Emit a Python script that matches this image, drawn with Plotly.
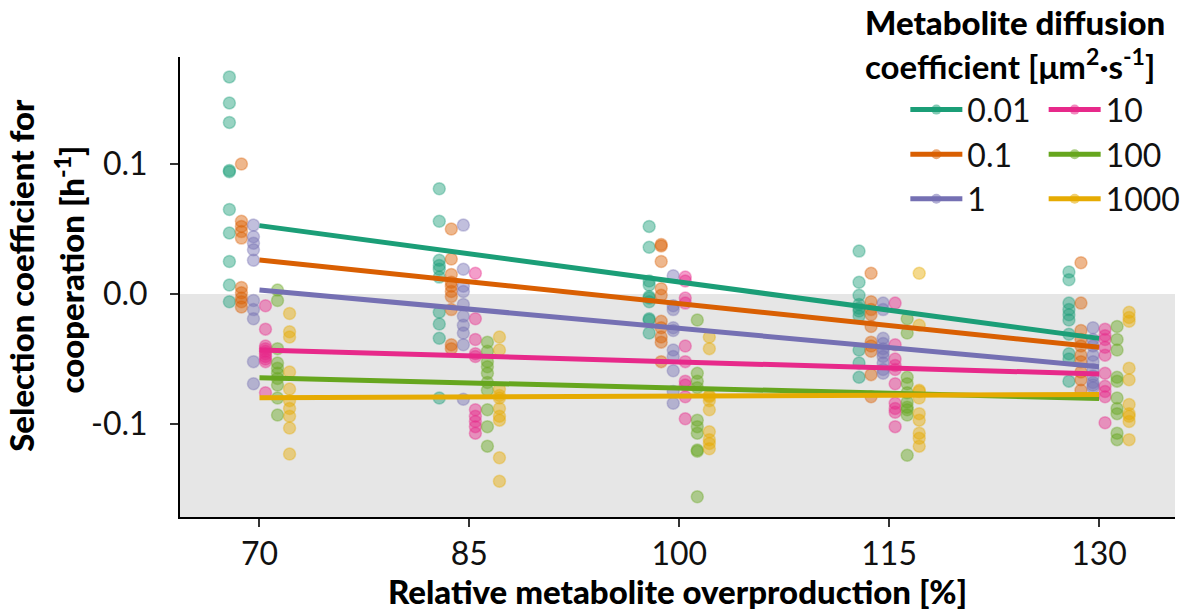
import plotly.graph_objects as go

# ---------------- data ----------------
overproduction = [70, 85, 100, 115, 130]
diffusion_labels = ["0.01", "0.1", "1", "10", "100", "1000"]
colors = ["#1B9E77", "#D95F02", "#7570B3", "#E7298A", "#66A61E", "#E6AB02"]
dodge = [-2.15, -1.29, -0.43, 0.43, 1.29, 2.15]

d001 = [
    [0.167, 0.147, 0.132, 0.095, 0.094, 0.065, 0.047, 0.025, 0.007, -0.006],
    [0.081, 0.056, 0.026, 0.022, 0.019, 0.013, -0.014, -0.023, -0.034, -0.080],
    [0.052, 0.036, 0.010, 0.007, -0.002, -0.003, -0.006, -0.019, -0.020, -0.030],
    [0.033, 0.009, -0.001, -0.008, -0.011, -0.013, -0.017, -0.043, -0.053, -0.064],
    [0.017, 0.011, -0.007, -0.012, -0.016, -0.020, -0.031, -0.046, -0.050, -0.067],
]
d01 = [
    [0.100, 0.056, 0.052, 0.048, 0.043, 0.005, 0.001, -0.003, -0.006, -0.010],
    [0.050, 0.027, 0.015, 0.009, 0.006, 0.002, -0.002, -0.012, -0.039, -0.042],
    [0.038, 0.037, 0.025, 0.004, -0.001, -0.021, -0.026, -0.033, -0.037, -0.052],
    [0.016, -0.006, -0.012, -0.016, -0.025, -0.037, -0.040, -0.044, -0.062, -0.079],
    [0.024, -0.007, -0.028, -0.035, -0.040, -0.047, -0.052, -0.060, -0.066, -0.074],
]
d1 = [
    [0.053, 0.044, 0.039, 0.034, 0.026, -0.005, -0.012, -0.019, -0.052, -0.069],
    [0.053, 0.019, 0.006, 0.002, -0.008, -0.017, -0.024, -0.030, -0.039, -0.081],
    [0.014, -0.009, -0.012, -0.026, -0.028, -0.043, -0.048, -0.059, -0.075, -0.084],
    [-0.007, -0.012, -0.034, -0.038, -0.042, -0.045, -0.048, -0.053, -0.058, -0.061],
    [-0.026, -0.035, -0.040, -0.047, -0.052, -0.058, -0.063, -0.068, -0.070, -0.072],
]
d10 = [
    [-0.009, -0.027, -0.040, -0.042, -0.044, -0.046, -0.048, -0.050, -0.052, -0.076],
    [0.016, -0.019, -0.035, -0.046, -0.048, -0.089, -0.094, -0.098, -0.102, -0.107],
    [0.013, 0.010, -0.003, -0.007, -0.040, -0.052, -0.067, -0.070, -0.079, -0.096],
    [-0.007, -0.039, -0.050, -0.055, -0.058, -0.069, -0.084, -0.088, -0.091, -0.102],
    [-0.027, -0.032, -0.035, -0.041, -0.047, -0.061, -0.071, -0.075, -0.079, -0.099],
]
d100 = [
    [0.003, -0.005, -0.042, -0.053, -0.057, -0.061, -0.065, -0.070, -0.080, -0.093],
    [-0.037, -0.044, -0.052, -0.056, -0.061, -0.068, -0.074, -0.089, -0.102, -0.117],
    [-0.020, -0.061, -0.067, -0.072, -0.097, -0.102, -0.107, -0.120, -0.121, -0.156],
    [-0.019, -0.030, -0.064, -0.069, -0.076, -0.083, -0.087, -0.089, -0.093, -0.124],
    [-0.025, -0.035, -0.043, -0.064, -0.067, -0.080, -0.088, -0.092, -0.107, -0.112],
]
d1000 = [
    [-0.015, -0.029, -0.033, -0.060, -0.073, -0.082, -0.088, -0.094, -0.103, -0.123],
    [-0.033, -0.043, -0.073, -0.078, -0.080, -0.088, -0.094, -0.097, -0.126, -0.144],
    [-0.033, -0.042, -0.078, -0.079, -0.082, -0.089, -0.106, -0.112, -0.115, -0.119],
    [0.016, -0.024, -0.074, -0.075, -0.080, -0.092, -0.097, -0.107, -0.111, -0.117],
    [-0.014, -0.018, -0.021, -0.057, -0.066, -0.085, -0.092, -0.094, -0.098, -0.112],
]
series_values = [d001, d01, d1, d10, d100, d1000]

# fitted line values at 70 % and 130 %
fit_start = [0.0526, 0.0262, 0.0031, -0.0430, -0.0644, -0.0797]
fit_end = [-0.0341, -0.0410, -0.0559, -0.0615, -0.0803, -0.0772]

y_ticks = [-0.1, 0.0, 0.1]
y_ticktext = ["-0.1", "0.0", "0.1"]
x_range = [64.32, 135.43]
y_range = [-0.1715, 0.1823]

FONT = "Lato"

def rgba(hexc, a):
    h = hexc.lstrip("#")
    r, g, b = int(h[0:2], 16), int(h[2:4], 16), int(h[4:6], 16)
    return f"rgba({r},{g},{b},{a})"

fig = go.Figure()

# background shading below zero
fig.add_shape(type="rect", xref="paper", x0=0, x1=1, yref="y",
              y0=y_range[0], y1=0, fillcolor="#e6e6e6", line_width=0, layer="below")

# points
for i, vals in enumerate(series_values):
    xs, ys = [], []
    for g, xv in enumerate(overproduction):
        for v in vals[g]:
            xs.append(xv + dodge[i])
            ys.append(v)
    fig.add_trace(go.Scatter(
        x=xs, y=ys, mode="markers", showlegend=False, hoverinfo="skip",
        marker=dict(size=12, color=rgba(colors[i], 0.45),
                    line=dict(color=rgba(colors[i], 0.35), width=1.5)),
    ))

# fitted lines
for i in range(6):
    fig.add_trace(go.Scatter(
        x=[overproduction[0], overproduction[-1]], y=[fit_start[i], fit_end[i]],
        mode="lines", showlegend=False, line=dict(color=colors[i], width=5),
    ))

# legend entries
for i, lab in enumerate(diffusion_labels):
    fig.add_trace(go.Scatter(
        x=[None], y=[None], mode="lines+markers", name=lab,
        legend="legend" if i < 3 else "legend2",
        line=dict(color=colors[i], width=5),
        marker=dict(size=10, color=rgba(colors[i], 0.55)),
    ))

legend_common = dict(
    bgcolor="rgba(0,0,0,0)", font=dict(family=FONT, size=32, color="#111"),
    xanchor="left", yanchor="top", itemwidth=52, tracegroupgap=0,
)
TITLE_FONT = dict(family=FONT, size=33, color="black", weight=900)

fig.update_layout(
    width=1188, height=611,
    margin=dict(l=180, r=13, t=57, b=94, autoexpand=False),
    paper_bgcolor="white", plot_bgcolor="white",
    font=dict(family=FONT, color="#111"),
    legend=dict(x=0.729, y=0.945, **legend_common),
    legend2=dict(x=0.868, y=0.945, **legend_common),
    xaxis=dict(range=x_range, tickvals=overproduction, showgrid=False, zeroline=False,
               showline=True, linecolor="black", linewidth=2,
               ticks="outside", ticklen=8, tickwidth=2, tickcolor="#333",
               tickfont=dict(family=FONT, size=32, color="#111"),
               title=dict(text="Relative metabolite overproduction [%]",
                          font=TITLE_FONT, standoff=0)),
    yaxis=dict(range=y_range, tickvals=y_ticks, ticktext=y_ticktext, showgrid=False,
               zeroline=False, showline=True, linecolor="black", linewidth=2,
               ticks="outside", ticklen=8, tickwidth=2, tickcolor="#333",
               ticklabelstandoff=16,
               tickfont=dict(family=FONT, size=32, color="#111")),
)

# y-axis title (two lines)
fig.add_annotation(text="Selection coefficient for", xref="paper", yref="paper",
                   x=-0.16, y=0.526, xanchor="center", yanchor="middle", textangle=-90,
                   showarrow=False, font=TITLE_FONT)
fig.add_annotation(text="cooperation [h<sup>-1</sup>]", xref="paper", yref="paper",
                   x=-0.111, y=0.537, xanchor="center", yanchor="middle", textangle=-90,
                   showarrow=False, font=TITLE_FONT)

# legend title (two lines)
fig.add_annotation(text="Metabolite diffusion", xref="paper", yref="paper",
                   x=0.686, y=1.077, xanchor="left", yanchor="middle", align="left",
                   showarrow=False, font=TITLE_FONT)
fig.add_annotation(text="coefficient [μm<sup>2</sup>·s<sup>-1</sup>]", xref="paper",
                   yref="paper", x=0.686, y=0.984, xanchor="left", yanchor="middle",
                   align="left", showarrow=False,
                   font=dict(family=FONT, size=33, color="black", weight=700))

fig.write_html("out.html")
